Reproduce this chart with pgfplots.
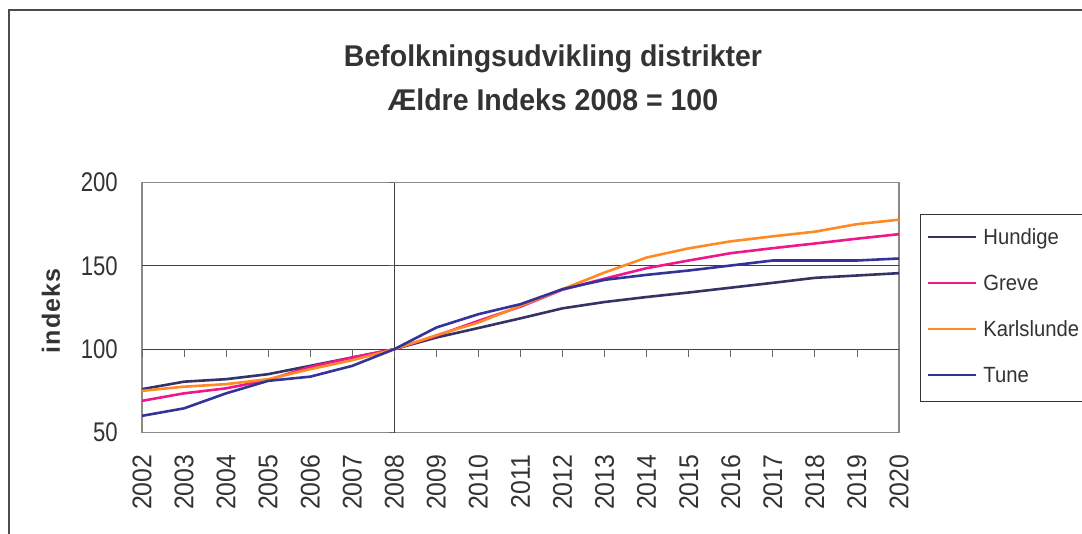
\documentclass[border=0pt]{standalone}
\usepackage{pgfplots}
\pgfplotsset{compat=1.18}
\usepackage{fontspec}
\setmainfont{Liberation Sans}
\newfontfamily\ytickfont[FakeStretch=0.82]{Liberation Sans}
\newfontfamily\xtickfont[FakeStretch=0.92]{Liberation Sans}
\newfontfamily\legfont[FakeStretch=0.92]{Liberation Sans}
\newfontfamily\titlefont[FakeStretch=0.95]{Liberation Sans}
\definecolor{hundige}{HTML}{333366}
\definecolor{greve}{HTML}{F0168C}
\definecolor{karls}{HTML}{FF8A24}
\definecolor{tune}{HTML}{333399}
\definecolor{frame}{HTML}{8F8985}
\definecolor{txt}{HTML}{333333}

\begin{document}
\begin{tikzpicture}
\useasboundingbox (0,0) rectangle (1082pt,-533pt);
\draw[line width=1.5pt, black!70] (9pt,-540pt) -- (9pt,-10pt) -- (1090pt,-10pt);

\node[anchor=base, text=txt, font=\titlefont\bfseries\fontsize{30}{36}\selectfont]
  at (553pt,-66.7pt) {Befolkningsudvikling distrikter};
\node[anchor=base, text=txt, font=\titlefont\bfseries\fontsize{30}{36}\selectfont]
  at (553pt,-110.7pt) {Ældre Indeks 2008 = 100};
\node[rotate=90, text=txt, font=\bfseries\fontsize{25}{30}\selectfont]
  at (51pt,-311pt) {i\kern1pt n\kern1pt d\kern1pt e\kern1pt k\kern1pt s};

\begin{axis}[
    at={(142pt,-432.5pt)}, anchor=south west,
    scale only axis, width=757pt, height=250pt,
    xmin=2002, xmax=2020, ymin=50, ymax=200,
    xtick={2002,2003,...,2020}, ytick={50,100,150,200},
    /pgf/number format/1000 sep={},
    /pgf/number format/assume math mode=true,
    major tick length=0pt,
    axis line style={frame, line width=1.8pt},
    xticklabel style={rotate=90, anchor=east, inner sep=0pt, text=txt,
        font=\xtickfont\fontsize{27}{30}\selectfont},
    xticklabel shift=22pt,
    yticklabel style={anchor=east, inner sep=0pt, text=txt,
        font=\ytickfont\fontsize{27}{30}\selectfont},
    yticklabel shift=24pt,
    legend style={at={(1.0277,0.874)}, anchor=north west,
        draw=black!80, line width=1pt, inner xsep=7pt, inner ysep=14pt,
        row sep=25pt, text=txt,
        font=\legfont\fontsize{22}{24}\selectfont,
        nodes={inner sep=0pt, anchor=base west, text height=16pt, text depth=5pt},
        column sep=6pt},
    legend cell align=left,
    legend image code/.code={\draw[#1, line width=2pt] (0pt,7.5pt) -- (48pt,7.5pt);},
]
\draw[black!75, line width=0.8pt] (axis cs:2002,150) -- (axis cs:2020,150);
\draw[black!75, line width=0.8pt] (axis cs:2002,100) -- (axis cs:2020,100);
\draw[black!75, line width=0.8pt] (axis cs:2008,50) -- (axis cs:2008,200);
\pgfplotsinvokeforeach{2002,2003,...,2020}{
  \draw[black!60, line width=0.8pt] (axis cs:#1,100) -- ++(0pt,-8pt);
}
\pgfplotsinvokeforeach{50,150,200}{
  \draw[black!60, line width=0.8pt] (axis cs:2008,#1) -- ++(-5pt,0pt);
}

\addplot[hundige, line width=2.6pt] coordinates {
  (2002,76) (2003,80.5) (2004,82) (2005,85) (2006,90) (2007,95) (2008,100)
  (2009,107) (2010,112.7) (2011,118.5) (2012,124.5) (2013,128.3) (2014,131.3)
  (2015,134) (2016,136.9) (2017,139.8) (2018,142.8) (2019,144.2) (2020,145.6)
};
\addlegendentry{Hundige}
\addplot[greve, line width=2.6pt] coordinates {
  (2002,69) (2003,73.5) (2004,76.5) (2005,81.5) (2006,89.4) (2007,95) (2008,100)
  (2009,108) (2010,117) (2011,125.5) (2012,135.7) (2013,142.3) (2014,148.6)
  (2015,153.2) (2016,157.6) (2017,160.6) (2018,163.4) (2019,166.3) (2020,169)
};
\addlegendentry{Greve}
\addplot[karls, line width=2.6pt] coordinates {
  (2002,75) (2003,77.5) (2004,79) (2005,82) (2006,88) (2007,93.4) (2008,100)
  (2009,108.4) (2010,116) (2011,126) (2012,136) (2013,146) (2014,155)
  (2015,160.5) (2016,164.7) (2017,167.7) (2018,170.5) (2019,175) (2020,177.7)
};
\addlegendentry{Karlslunde}
\addplot[tune, line width=2.6pt] coordinates {
  (2002,60) (2003,64.5) (2004,73.5) (2005,81) (2006,83.5) (2007,90) (2008,100)
  (2009,113) (2010,121) (2011,127) (2012,136) (2013,141.6) (2014,144.6)
  (2015,147.2) (2016,150.2) (2017,153.2) (2018,153.2) (2019,153.2) (2020,154.4)
};
\addlegendentry{Tune}
\end{axis}
\end{tikzpicture}
\end{document}
